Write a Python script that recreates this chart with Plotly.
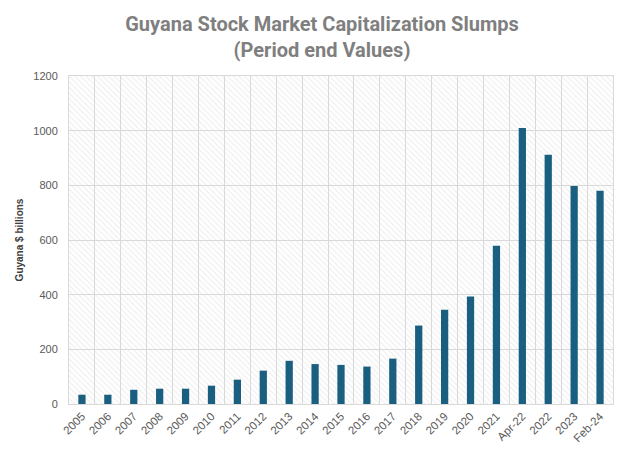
import plotly.graph_objects as go

categories = ["2005", "2006", "2007", "2008", "2009", "2010", "2011", "2012", "2013", "2014",
              "2015", "2016", "2017", "2018", "2019", "2020", "2021", "Apr-22", "2022", "2023", "Feb-24"]
values = [34, 34, 52, 56, 56, 67, 89, 122, 158, 146,
          143, 137, 166, 287, 345, 393, 579, 1010, 912, 798, 780]
y_max = 1200
y_ticks = [0, 200, 400, 600, 800, 1000, 1200]

# page body has an 8px default margin; compensate so the picture lines up
OFF = 8

fig = go.Figure()

# hatched plot background (transparent gaps so gridlines show through)
fig.add_trace(go.Bar(
    x=categories, y=[y_max] * len(categories), width=1,
    marker=dict(color="rgba(255,255,255,0)", line=dict(width=0),
                pattern=dict(shape="\\", fgcolor="#d9d9d9", bgcolor="rgba(255,255,255,0)",
                             size=4, solidity=0.25, fillmode="overlay")),
    hoverinfo="skip", showlegend=False,
))

fig.add_trace(go.Bar(
    x=categories, y=values, width=0.28,
    marker=dict(color="#1b5f80", line=dict(width=0)),
    showlegend=False,
))

fig.update_layout(
    width=628, height=452,
    barmode="overlay",
    paper_bgcolor="white", plot_bgcolor="white",
    margin=dict(l=69 - OFF, r=23, t=76 - OFF, b=56, autoexpand=False),
    title=dict(
        text="<b>Guyana Stock Market Capitalization Slumps<br>(Period end Values)</b>",
        x=0.5, xanchor="center", y=0.95, yanchor="top",
        font=dict(family="Roboto, Arial", size=20, color="#7f7f7f"),
    ),
    font=dict(family="Arial, Liberation Sans", size=11, color="#595959"),
)

fig.update_xaxes(
    type="category", tickson="boundaries", showgrid=True, gridcolor="#d9d9d9", gridwidth=1,
    tickangle=-45, ticks="", showline=True, linecolor="#d9d9d9", mirror=True,
    tickfont=dict(size=11.5, color="#595959"), range=[-0.5, len(categories) - 0.5],
)
fig.update_yaxes(
    range=[0, y_max], tickvals=y_ticks, showgrid=True, gridcolor="#d9d9d9", gridwidth=1,
    zeroline=False, showline=True, linecolor="#d9d9d9", mirror=True, ticks="",
    ticklen=0, ticklabelstandoff=8, tickfont=dict(size=11, color="#595959"),
    title=dict(text="<b>Guyana $ billions</b>", font=dict(size=10, color="#404040"), standoff=7),
)

fig.write_html("out.html")
